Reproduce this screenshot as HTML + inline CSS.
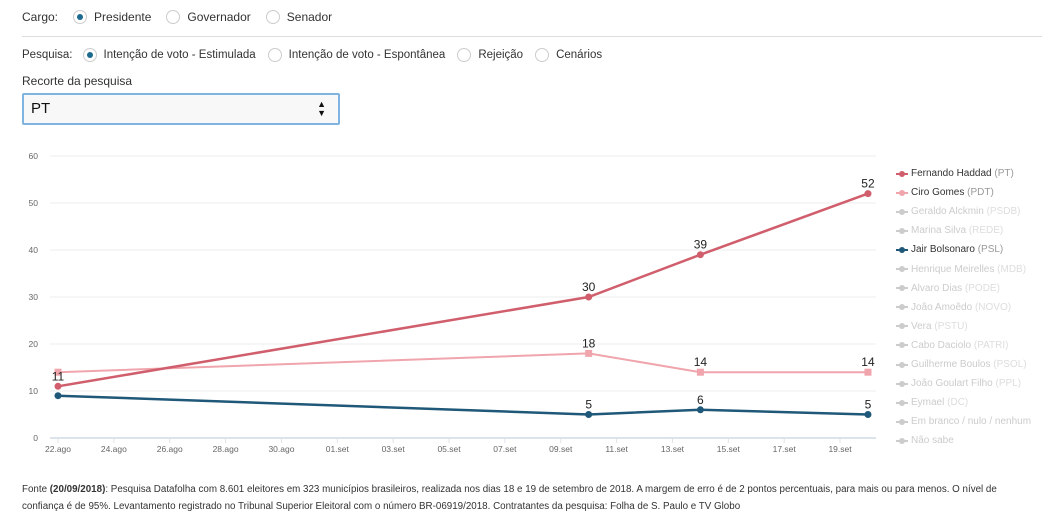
<!DOCTYPE html>
<html><head><meta charset="utf-8"><style>
body{margin:0;width:1042px;height:519px;background:#fff;font-family:"Liberation Sans",sans-serif;color:#333;position:relative;overflow:hidden}
.row{position:absolute;left:22px;font-size:12px;display:flex;align-items:center;white-space:nowrap}
.radio{display:inline-block;width:14px;height:14px;border:1px solid #ccc;border-radius:50%;margin:0 7px 0 12px;position:relative;box-sizing:border-box}
.radio.on::after{content:"";position:absolute;left:3px;top:3px;width:6px;height:6px;border-radius:50%;background:#1d6a8f}
.leg{position:absolute;left:896px;font-size:10px;color:#ccc;display:flex;align-items:center;height:19px;white-space:nowrap}
.leg i{display:inline-block;width:12px;height:2px;background:currentColor;margin-right:3px;position:relative}
.leg i::after{content:"";position:absolute;left:3px;top:-2px;width:6px;height:6px;border-radius:50%;background:currentColor}
.leg b{font-weight:normal}
</style></head><body>
<div class="row" style="top:10px">Cargo:<span class="radio on" style="margin-left:15px"></span>Presidente<span class="radio" style="margin-left:15px"></span>Governador<span class="radio" style="margin-left:15px"></span>Senador</div>
<div style="position:absolute;left:22px;top:36px;width:1020px;height:1px;background:#ddd"></div>
<div class="row" style="top:48px;font-size:11.5px">Pesquisa:<span class="radio on" style="margin-left:10px"></span>Intenção de voto - Estimulada<span class="radio"></span>Intenção de voto - Espontânea<span class="radio"></span>Rejeição<span class="radio"></span>Cenários</div>
<div style="position:absolute;left:22px;top:74px;font-size:12px">Recorte da pesquisa</div>
<div style="position:absolute;left:22px;top:93px;width:307px;height:28px;border:2px solid #7fb3e0;border-radius:2px;background:#f8f8f8;font-size:15px;line-height:28px;padding-left:7px;color:#111">PT<span style="position:absolute;right:12px;top:0;font-size:9px;line-height:9px;padding-top:5px">▲<br>▼</span></div>
<svg id="chart" width="1042" height="519" style="position:absolute;left:0;top:0"></svg>
<div id="legend"></div>
<div style="position:absolute;left:22px;top:481px;width:1015px;font-size:9.8px;line-height:17px;color:#333">Fonte <b>(20/09/2018)</b>: Pesquisa Datafolha com 8.601 eleitores em 323 municípios brasileiros, realizada nos dias 18 e 19 de setembro de 2018. A margem de erro é de 2 pontos percentuais, para mais ou para menos. O nível de confiança é de 95%. Levantamento registrado no Tribunal Superior Eleitoral com o número BR-06919/2018. Contratantes da pesquisa: Folha de S. Paulo e TV Globo</div>
<script>
const days=[0,19,23,29];
const haddad=[11,30,39,52];
const ciro=[14,18,14,14];
const bolsonaro=[9,5,6,5];
const yTicks=[0,10,20,30,40,50,60];
const xTickLabels=["22.ago","24.ago","26.ago","28.ago","30.ago","01.set","03.set","05.set","07.set","09.set","11.set","13.set","15.set","17.set","19.set"];
const legendNames=["Fernando Haddad","Ciro Gomes","Geraldo Alckmin","Marina Silva","Jair Bolsonaro","Henrique Meirelles","Alvaro Dias","João Amoêdo","Vera","Cabo Daciolo","Guilherme Boulos","João Goulart Filho","Eymael","Em branco / nulo / nenhum","Não sabe"];
const legendParties=["PT","PDT","PSDB","REDE","PSL","MDB","PODE","NOVO","PSTU","PATRI","PSOL","PPL","DC","",""];
const NS="http://www.w3.org/2000/svg";
const svg=document.getElementById('chart');
const x=d=>58+d*27.93, y=v=>438-v*4.7;
function mk(t,a,p){const e=document.createElementNS(NS,t);for(const k in a)e.setAttribute(k,a[k]);(p||svg).appendChild(e);return e;}
yTicks.forEach(v=>{
 const l=mk('line',{x1:50,x2:876,y1:y(v),y2:y(v),stroke:v?'#eee':'#dde3ea','stroke-width':v?1:2});
 
 
 const t=mk('text',{x:38,y:y(v)+3,'text-anchor':'end','font-size':8.5,fill:'#666'});t.textContent=v;
 
 
});
xTickLabels.forEach((s,i)=>{
 const t=mk('text',{x:x(i*2),y:452,'text-anchor':'middle','font-size':8.5,fill:'#666'});t.textContent=s;
 
 
 mk('line',{x1:x(i*2),x2:x(i*2),y1:439,y2:443,stroke:'#dde3ea'});
});
function series(vals,color,name,labelFrom,sq){
 const g=mk('g',{});
 
 
 mk('polyline',{points:vals.map((v,i)=>x(days[i])+','+y(vals[i])).join(' '),fill:'none',stroke:color,'stroke-width':sq?2:2.5},g);
 vals.forEach((v,i)=>{
  const p=sq?mk('rect',{x:x(days[i])-3.5,y:y(v)-3.5,width:7,height:7,fill:color},g):mk('circle',{cx:x(days[i]),cy:y(v),r:3.5,fill:color},g);
  
  
  if(i>=labelFrom){const t=mk('text',{x:x(days[i]),y:y(v)-6,'text-anchor':'middle','font-size':12,fill:'#222'},g);t.textContent=v;
   
   }
 });
}
series(ciro,'#f0a5ad','ciro-series',1,true);
series(bolsonaro,'#1f5878','bolsonaro-series',1,false);
series(haddad,'#d05e6c','haddad-series',0,false);
const colors={0:'#d05e6c',1:'#f0a5ad',4:'#1f5878'};
const lg=document.getElementById('legend');
legendNames.forEach((n,i)=>{
 const d=document.createElement('div');d.className='leg';d.style.top=(164+i*19.1)+'px';
 
 
 const c=colors[i];
 d.innerHTML='<i style="color:'+(c||'#ccc')+'"></i><span style="color:'+(c?'#333':'#ccc')+'">'+n+'</span>'+(legendParties[i]?'&nbsp;<b style="color:'+(c?'#999':'#ddd')+'">('+legendParties[i]+')</b>':'');
 lg.appendChild(d);
});
</script>
</body></html>
